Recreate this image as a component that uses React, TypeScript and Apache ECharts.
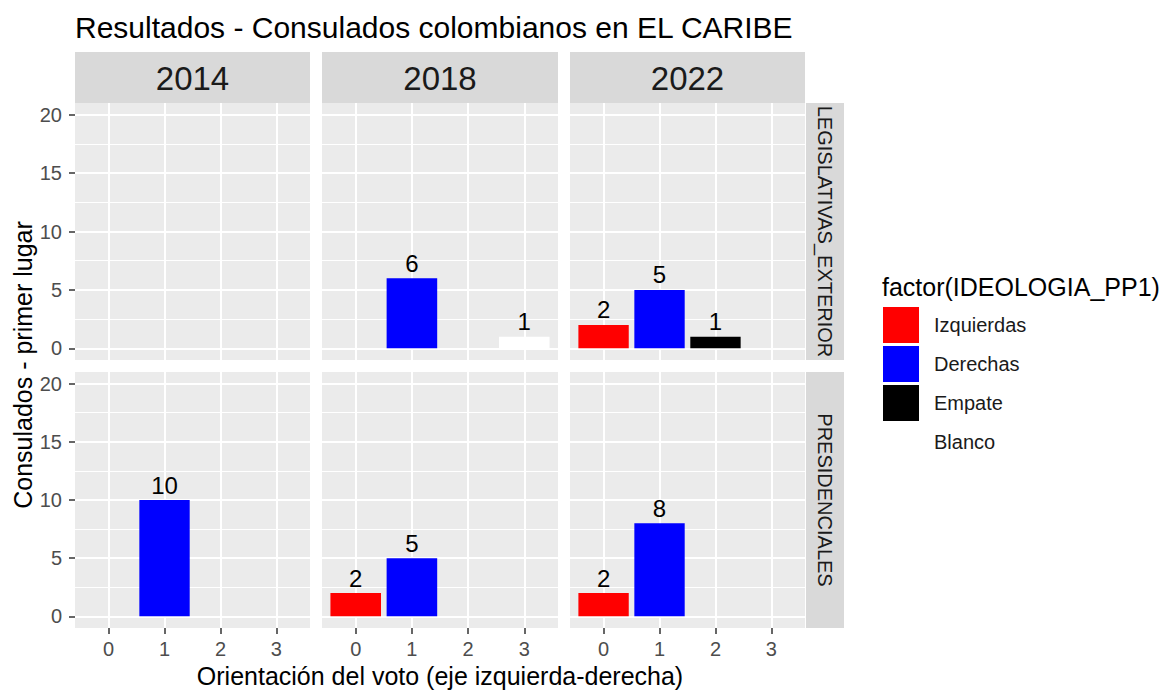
import React, { useEffect, useRef } from 'react';
import * as echarts from 'echarts';

const FONT = '"Liberation Sans", Arial, Helvetica, sans-serif';

// ---- data ----
const years = ['2014', '2018', '2022'];
const elections = ['LEGISLATIVAS_EXTERIOR', 'PRESIDENCIALES'];
const categories = ['Izquierdas', 'Derechas', 'Empate', 'Blanco'];
const palette = ['#FF0000', '#0000FF', '#000000', '#FFFFFF'];
const xTicks = [0, 1, 2, 3];
const yTicks = [0, 5, 10, 15, 20];
const yMinorTicks = [2.5, 7.5, 12.5, 17.5];

type Row = [number, number, string]; // [orientación, consulados, ideología]
const legislativas2014: Row[] = [];
const legislativas2018: Row[] = [
  [1, 6, 'Derechas'],
  [3, 1, 'Blanco'],
];
const legislativas2022: Row[] = [
  [0, 2, 'Izquierdas'],
  [1, 5, 'Derechas'],
  [2, 1, 'Empate'],
];
const presidenciales2014: Row[] = [[1, 10, 'Derechas']];
const presidenciales2018: Row[] = [
  [0, 2, 'Izquierdas'],
  [1, 5, 'Derechas'],
];
const presidenciales2022: Row[] = [
  [0, 2, 'Izquierdas'],
  [1, 8, 'Derechas'],
];

const facetData: Row[][][] = [
  [legislativas2014, legislativas2018, legislativas2022],
  [presidenciales2014, presidenciales2018, presidenciales2022],
];

// ---- layout ----
const colLeft = [75, 322, 570];
const colWidth = [235, 236, 235];
const rowTop = [103, 372];
const rowHeight = [257, 256];
const stripTop = 52;
const stripHeight = 51;
const rStripLeft = 806;
const rStripWidth = 38;

function buildOption() {
  const grids: any[] = [];
  const xAxes: any[] = [];
  const yAxes: any[] = [];
  const series: any[] = [];
  const graphics: any[] = [];

  for (let r = 0; r < 2; r++) {
    for (let c = 0; c < 3; c++) {
      const g = r * 3 + c;
      grids.push({
        left: colLeft[c],
        top: rowTop[r],
        width: colWidth[c],
        height: rowHeight[r],
        show: true,
        backgroundColor: '#EBEBEB',
        borderWidth: 0,
        containLabel: false,
        outerBoundsMode: 'none',
      });
      xAxes.push({
        type: 'value',
        gridIndex: g,
        min: -0.6,
        max: 3.6,
        position: 'bottom',
        axisLine: { show: false, onZero: false },
        axisTick: {
          show: r === 1,
          customValues: xTicks,
          length: 6,
          lineStyle: { color: '#333333', width: 1.5 },
        },
        axisLabel: {
          show: r === 1,
          customValues: xTicks,
          margin: 11,
          fontSize: 20,
          color: '#4D4D4D',
          fontFamily: FONT,
        },
        splitLine: { show: true, lineStyle: { color: '#FFFFFF', width: 2 } },
      });
      yAxes.push({
        type: 'value',
        gridIndex: g,
        min: -1,
        max: 21,
        position: 'left',
        axisLine: { show: false, onZero: false },
        axisTick: {
          show: c === 0,
          customValues: yTicks,
          length: 6,
          lineStyle: { color: '#333333', width: 1.5 },
        },
        axisLabel: {
          show: c === 0,
          customValues: yTicks,
          margin: 13,
          fontSize: 20,
          color: '#4D4D4D',
          fontFamily: FONT,
        },
        splitLine: { show: true, lineStyle: { color: '#FFFFFF', width: 2 } },
      });
      yAxes.push({
        type: 'value',
        gridIndex: g,
        min: -1,
        max: 21,
        position: 'right',
        axisLine: { show: false, onZero: false },
        axisTick: { show: false, customValues: yMinorTicks },
        axisLabel: { show: false, customValues: yMinorTicks },
        splitLine: { show: true, lineStyle: { color: '#FFFFFF', width: 1 } },
      });

      const rows = facetData[r][c];
      categories.forEach((cat, k) => {
        const sub = rows.filter((d) => d[2] === cat);
        if (!sub.length) return;
        const color = palette[k];
        series.push({
          type: 'custom',
          name: cat,
          xAxisIndex: g,
          yAxisIndex: 2 * g,
          itemStyle: { color },
          z: 5,
          data: sub.map((d) => [d[0], d[1]]),
          renderItem: (_params: any, api: any) => {
            const x = api.value(0) as number;
            const v = api.value(1) as number;
            const tl = api.coord([x - 0.45, v]);
            const br = api.coord([x + 0.45, 0]);
            return {
              type: 'group',
              children: [
                {
                  type: 'rect',
                  shape: { x: tl[0], y: tl[1], width: br[0] - tl[0], height: br[1] - tl[1] },
                  style: { fill: color },
                },
                {
                  type: 'text',
                  x: (tl[0] + br[0]) / 2,
                  y: tl[1] - 3,
                  style: {
                    text: String(v),
                    fill: '#000000',
                    fontSize: 24,
                    fontFamily: FONT,
                    align: 'center',
                    verticalAlign: 'bottom',
                  },
                },
              ],
            };
          },
        });
      });
    }
  }

  // top strips
  years.forEach((yr, c) => {
    graphics.push({
      type: 'rect',
      shape: { x: colLeft[c], y: stripTop, width: colWidth[c], height: stripHeight },
      style: { fill: '#D9D9D9' },
      silent: true,
    });
    graphics.push({
      type: 'text',
      x: colLeft[c] + colWidth[c] / 2,
      y: stripTop + stripHeight / 2 + 1,
      style: {
        text: yr,
        fontSize: 33,
        fontFamily: FONT,
        fill: '#1A1A1A',
        align: 'center',
        verticalAlign: 'middle',
      },
      silent: true,
    });
  });
  // right strips
  elections.forEach((el, r) => {
    graphics.push({
      type: 'rect',
      shape: { x: rStripLeft, y: rowTop[r], width: rStripWidth, height: rowHeight[r] },
      style: { fill: '#D9D9D9' },
      silent: true,
    });
    graphics.push({
      type: 'text',
      x: rStripLeft + rStripWidth / 2,
      y: rowTop[r] + rowHeight[r] / 2,
      rotation: -Math.PI / 2,
      style: {
        text: el,
        fontSize: 20,
        fontFamily: FONT,
        fill: '#1A1A1A',
        align: 'center',
        verticalAlign: 'middle',
      },
      silent: true,
    });
  });
  // titles
  graphics.push({
    type: 'text',
    x: 75,
    y: 27,
    style: {
      text: 'Resultados - Consulados colombianos en EL CARIBE',
      fontSize: 30,
      fontFamily: FONT,
      fill: '#000000',
      align: 'left',
      verticalAlign: 'middle',
    },
  });
  graphics.push({
    type: 'text',
    x: 23,
    y: 365,
    rotation: Math.PI / 2,
    style: {
      text: 'Consulados - primer lugar',
      fontSize: 25,
      fontFamily: FONT,
      fill: '#000000',
      align: 'center',
      verticalAlign: 'middle',
    },
  });
  graphics.push({
    type: 'text',
    x: 440,
    y: 676,
    style: {
      text: 'Orientación del voto (eje izquierda-derecha)',
      fontSize: 25,
      fontFamily: FONT,
      fill: '#000000',
      align: 'center',
      verticalAlign: 'middle',
    },
  });
  graphics.push({
    type: 'text',
    x: 882,
    y: 287,
    style: {
      text: 'factor(IDEOLOGIA_PP1)',
      fontSize: 25,
      fontFamily: FONT,
      fill: '#000000',
      align: 'left',
      verticalAlign: 'middle',
    },
  });

  return {
    animation: false,
    backgroundColor: '#FFFFFF',
    grid: grids,
    xAxis: xAxes,
    yAxis: yAxes,
    series,
    legend: {
      orient: 'vertical',
      left: 883,
      top: 307,
      padding: 0,
      itemWidth: 36,
      itemHeight: 36,
      itemGap: 3,
      icon: 'rect',
      selectedMode: false,
      data: categories,
      textStyle: { fontSize: 20, color: '#1A1A1A', fontFamily: FONT, padding: [0, 0, 0, 10] },
    },
    graphic: graphics,
  };
}

export default function App() {
  const ref = useRef<HTMLDivElement>(null);
  useEffect(() => {
    document.body.style.margin = '0';
    const chart = echarts.init(ref.current as HTMLDivElement, undefined, { renderer: 'svg' });
    chart.setOption(buildOption() as any);
    return () => {
      chart.dispose();
    };
  }, []);
  return <div ref={ref} style={{ width: 1162, height: 692 }} />;
}
